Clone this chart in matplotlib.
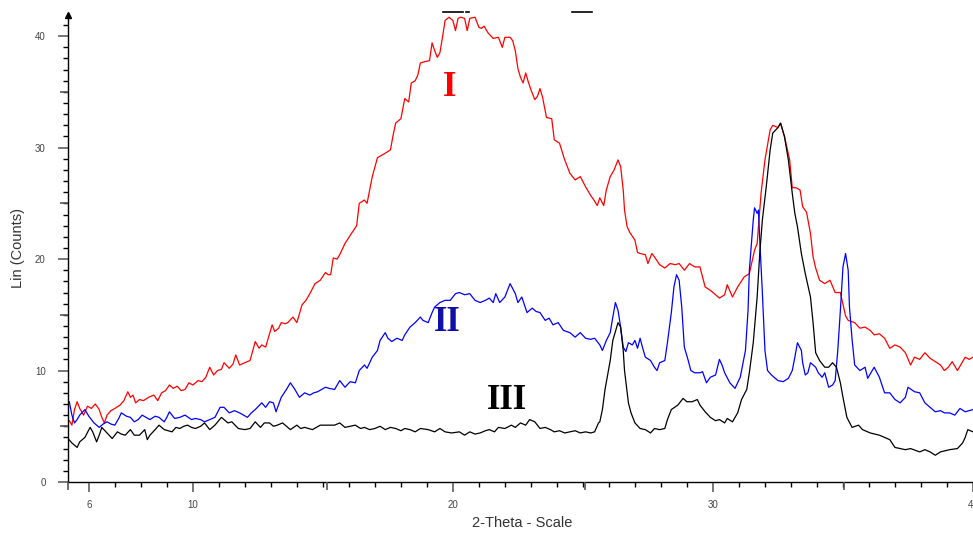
import numpy as np
import matplotlib
matplotlib.use("Agg")
import matplotlib.pyplot as plt
from matplotlib.ticker import FixedLocator, MultipleLocator
from matplotlib.lines import Line2D

# ---- data (2-theta, counts) ----
red_points = [
    (5.25,5.5),(5.35,5.1),(5.45,6.5),(5.55,7.2),(5.65,6.6),(5.8,6.0),(5.95,6.8),(6.1,6.6),(6.25,7.0),(6.4,6.5),
    (6.5,5.8),(6.6,5.3),(6.7,6.0),(6.85,6.4),(7.0,6.6),(7.2,6.9),(7.35,7.3),(7.5,8.1),(7.6,7.6),(7.7,7.8),
    (7.8,7.1),(7.95,7.4),(8.1,7.3),(8.3,7.6),(8.5,7.8),(8.65,7.3),(8.8,8.0),(8.95,8.2),(9.1,8.7),(9.25,8.4),
    (9.4,8.6),(9.55,8.2),(9.7,8.3),(9.85,8.9),(10.0,8.7),(10.2,9.1),(10.35,9.0),(10.5,9.4),(10.65,10.3),(10.8,9.6),
    (10.95,10.0),(11.1,10.1),(11.2,10.7),(11.4,10.2),(11.55,10.6),(11.65,11.4),(11.8,10.5),(12.0,10.7),(12.2,10.9),(12.4,12.6),
    (12.55,12.0),(12.65,12.3),(12.8,12.1),(12.9,12.9),(13.05,14.1),(13.15,13.5),(13.3,13.8),(13.4,14.3),(13.55,14.2),(13.65,14.3),
    (13.85,14.8),(14.0,14.3),(14.2,15.9),(14.35,16.3),(14.5,16.9),(14.7,17.8),(14.9,18.1),(15.1,18.8),(15.2,18.6),(15.3,18.6),
    (15.4,20.1),(15.55,20.0),(15.65,20.4),(15.85,21.4),(16.1,22.3),(16.3,23.0),(16.4,25.0),(16.6,25.3),(16.7,25.0),(16.9,27.4),
    (17.1,29.1),(17.25,29.3),(17.4,29.5),(17.6,29.8),(17.7,31.1),(17.8,32.2),(18.0,32.6),(18.15,34.4),(18.3,34.1),(18.4,35.8),
    (18.55,36.0),(18.65,36.5),(18.75,37.6),(18.9,37.7),(19.1,37.8),(19.2,39.4),(19.3,38.7),(19.4,38.1),(19.5,38.5),(19.6,39.9),
    (19.7,41.4),(19.85,41.7),(20.0,41.4),(20.1,40.5),(20.2,41.6),(20.3,41.7),(20.45,41.6),(20.55,40.5),(20.65,41.6),(20.85,41.7),
    (21.0,40.8),(21.1,40.7),(21.2,40.9),(21.35,40.3),(21.55,39.8),(21.75,39.9),(21.9,39.0),(22.0,39.9),(22.2,39.9),(22.3,39.6),
    (22.4,38.7),(22.5,37.1),(22.6,36.3),(22.7,35.8),(22.8,36.7),(22.9,35.9),(23.0,35.2),(23.15,34.3),(23.25,34.6),(23.35,35.3),
    (23.45,34.5),(23.6,32.7),(23.8,32.6),(23.9,30.7),(24.1,30.4),(24.3,28.9),(24.5,27.7),(24.7,27.1),(24.9,27.4),(25.1,26.5),
    (25.3,25.7),(25.45,25.2),(25.55,24.8),(25.65,25.5),(25.8,24.8),(25.9,26.2),(26.05,27.4),(26.2,28.0),(26.35,28.9),(26.45,28.3),
    (26.55,26.2),(26.6,24.4),(26.7,22.9),(26.8,22.4),(27.0,21.7),(27.1,20.6),(27.2,20.5),(27.4,20.4),(27.5,19.6),(27.65,20.5),
    (27.75,20.2),(27.95,19.5),(28.15,19.2),(28.35,19.6),(28.55,19.5),(28.7,19.6),(28.9,19.0),(29.1,19.6),(29.3,19.3),(29.5,19.3),
    (29.6,18.4),(29.7,17.5),(29.9,17.2),(30.1,16.8),(30.25,16.5),(30.45,16.8),(30.55,17.7),(30.75,16.6),(30.95,17.5),(31.2,18.4),
    (31.4,18.7),(31.6,20.8),(31.7,21.4),(31.85,25.9),(32.0,28.9),(32.2,31.6),(32.3,32.0),(32.5,31.8),(32.6,32.2),(32.75,31.0),
    (32.95,28.9),(33.05,26.4),(33.2,26.4),(33.35,26.2),(33.45,24.7),(33.6,24.2),(33.75,22.3),(33.85,20.2),(33.95,19.2),(34.1,18.1),
    (34.3,17.8),(34.5,18.1),(34.7,17.0),(34.9,17.0),(35.1,14.9),(35.2,14.5),(35.45,14.3),(35.65,13.8),(35.85,13.9),(36.05,13.6),
    (36.2,13.2),(36.4,13.3),(36.6,12.9),(36.8,12.0),(37.0,12.3),(37.2,12.1),(37.4,11.6),(37.6,10.5),(37.75,11.2),(37.95,11.0),
    (38.15,11.6),(38.35,11.1),(38.55,10.8),(38.75,10.5),(38.9,10.0),(39.05,10.3),(39.2,10.8),(39.4,10.0),(39.55,10.6),(39.7,11.2),
    (39.85,11.0),(40.0,11.2),
]

blue_points = [
    (5.25,7.2),(5.35,6.0),(5.45,5.3),(5.55,5.6),(5.65,6.0),(5.85,6.5),(6.0,5.9),(6.2,5.3),(6.4,4.9),(6.55,5.2),
    (6.7,5.4),(6.85,5.2),(7.0,5.1),(7.15,5.7),(7.25,6.2),(7.45,5.9),(7.6,5.8),(7.75,5.4),(7.9,5.6),(8.05,6.0),
    (8.2,5.8),(8.35,5.6),(8.55,5.9),(8.7,5.8),(8.9,5.4),(9.0,5.8),(9.1,6.3),(9.3,5.7),(9.5,5.8),(9.7,6.0),
    (9.95,5.6),(10.1,5.7),(10.3,5.6),(10.45,5.4),(10.65,5.6),(10.85,5.8),(11.05,6.7),(11.2,6.7),(11.4,6.2),(11.6,6.4),
    (11.8,6.2),(11.95,6.0),(12.1,5.8),(12.25,6.2),(12.4,6.5),(12.65,7.1),(12.8,6.7),(12.95,7.2),(13.1,7.1),(13.2,6.3),
    (13.4,7.6),(13.6,8.3),(13.75,8.9),(13.9,8.4),(14.1,7.6),(14.3,8.0),(14.5,7.8),(14.65,8.0),(14.8,8.1),(14.95,8.3),
    (15.1,8.5),(15.25,8.4),(15.45,8.3),(15.65,9.1),(15.85,8.5),(16.05,9.0),(16.25,8.9),(16.4,10.0),(16.6,10.5),(16.7,10.2),
    (16.9,11.2),(17.1,11.8),(17.2,12.7),(17.4,13.4),(17.5,12.9),(17.65,12.6),(17.85,12.9),(18.05,12.7),(18.15,13.2),(18.35,13.9),
    (18.55,14.3),(18.75,14.8),(18.85,14.5),(19.05,14.3),(19.2,15.2),(19.3,15.7),(19.5,16.1),(19.7,16.3),(19.9,16.3),(20.1,16.9),
    (20.25,17.0),(20.45,16.8),(20.65,16.9),(20.85,16.3),(21.05,16.1),(21.25,16.3),(21.4,16.5),(21.55,16.1),(21.65,16.9),(21.8,16.1),
    (22.0,16.6),(22.2,17.8),(22.4,16.9),(22.5,16.1),(22.65,16.6),(22.85,15.2),(23.05,15.6),(23.2,15.3),(23.35,15.2),(23.55,14.5),
    (23.7,14.7),(23.85,14.1),(24.05,14.3),(24.25,13.6),(24.5,13.4),(24.7,13.0),(24.9,13.4),(25.1,12.9),(25.3,12.8),(25.45,12.9),
    (25.65,12.3),(25.75,11.8),(25.9,12.7),(26.05,13.4),(26.15,14.8),(26.25,16.1),(26.35,15.4),(26.45,13.9),(26.55,12.1),(26.65,11.7),
    (26.75,12.5),(26.9,12.3),(27.0,12.7),(27.1,12.0),(27.2,12.9),(27.3,12.0),(27.4,11.2),(27.6,10.9),(27.75,10.3),(27.85,10.0),
    (27.95,10.7),(28.15,10.9),(28.25,12.5),(28.4,15.2),(28.5,17.5),(28.6,18.6),(28.7,18.1),(28.8,15.7),(28.9,12.1),(29.05,10.9),
    (29.15,10.0),(29.3,9.8),(29.5,9.8),(29.6,9.9),(29.75,8.9),(29.9,9.4),(30.1,9.6),(30.25,11.0),(30.35,10.5),(30.45,9.8),
    (30.65,8.9),(30.85,8.4),(31.05,9.4),(31.25,11.8),(31.35,15.4),(31.4,19.0),(31.55,23.5),(31.6,24.6),(31.7,24.1),(31.75,24.4),
    (31.8,21.7),(31.9,17.0),(32.0,11.8),(32.1,10.0),(32.25,9.6),(32.5,9.1),(32.7,9.0),(32.9,9.3),(33.05,10.0),(33.15,11.2),
    (33.25,12.5),(33.4,11.8),(33.45,10.7),(33.55,9.6),(33.65,9.8),(33.75,10.7),(33.95,10.3),(34.05,9.8),(34.2,9.4),(34.3,9.8),
    (34.45,8.5),(34.6,8.7),(34.7,9.1),(34.8,11.8),(34.9,15.4),(35.0,19.3),(35.1,20.5),(35.2,19.0),(35.25,15.7),(35.35,12.8),
    (35.45,10.5),(35.65,10.0),(35.85,10.3),(35.95,9.3),(36.1,9.9),(36.2,10.3),(36.4,9.4),(36.6,8.0),(36.8,8.0),(37.0,7.4),
    (37.2,7.1),(37.4,7.6),(37.5,8.5),(37.75,8.1),(37.95,8.0),(38.15,7.1),(38.35,6.7),(38.55,6.3),(38.75,6.4),(38.9,6.2),
    (39.1,6.2),(39.3,6.0),(39.5,6.6),(39.7,6.3),(39.85,6.4),(40.0,6.5),
]

black_points = [
    (5.2,3.9),(5.35,3.5),(5.55,3.1),(5.65,3.6),(5.85,4.0),(6.05,4.9),(6.15,4.5),(6.3,3.6),(6.4,4.2),(6.5,4.9),
    (6.7,4.4),(6.9,3.9),(7.1,4.5),(7.25,4.3),(7.4,4.2),(7.6,4.7),(7.75,4.2),(7.95,4.2),(8.15,4.7),(8.25,3.8),
    (8.35,4.2),(8.55,4.7),(8.7,5.1),(8.9,4.7),(9.05,4.6),(9.2,4.5),(9.35,4.9),(9.5,4.8),(9.65,5.0),(9.8,5.1),
    (9.95,4.9),(10.1,4.8),(10.3,5.0),(10.45,5.3),(10.65,4.7),(10.85,5.1),(11.1,5.8),(11.35,5.3),(11.5,5.4),(11.75,4.8),
    (12.0,4.7),(12.2,4.8),(12.4,5.4),(12.6,4.9),(12.75,5.3),(12.95,5.3),(13.1,5.0),(13.25,5.1),(13.45,5.3),(13.6,5.0),
    (13.75,4.7),(14.0,5.1),(14.15,4.8),(14.3,4.9),(14.6,4.7),(14.9,5.1),(15.2,5.1),(15.45,5.1),(15.65,5.3),(15.85,4.9),
    (16.05,5.0),(16.25,5.1),(16.45,4.8),(16.6,4.9),(16.8,4.7),(17.0,4.8),(17.2,5.0),(17.4,4.7),(17.6,4.9),(17.8,4.8),
    (18.0,4.6),(18.15,4.8),(18.35,4.7),(18.55,4.5),(18.75,4.8),(19.05,4.7),(19.3,4.5),(19.5,4.8),(19.7,4.5),(19.95,4.4),
    (20.25,4.5),(20.45,4.2),(20.65,4.5),(20.85,4.3),(21.05,4.4),(21.25,4.6),(21.4,4.7),(21.6,4.5),(21.75,4.9),(22.0,4.8),
    (22.25,5.1),(22.4,4.9),(22.6,5.3),(22.8,5.1),(22.95,5.6),(23.15,5.4),(23.35,4.8),(23.55,4.9),(23.75,4.7),(23.9,4.5),
    (24.1,4.6),(24.3,4.4),(24.5,4.5),(24.7,4.6),(24.9,4.4),(25.1,4.5),(25.3,4.4),(25.45,4.5),(25.6,5.3),(25.65,5.4),
    (25.75,6.5),(25.85,8.3),(26.05,10.9),(26.15,12.7),(26.35,14.3),(26.45,13.9),(26.55,11.8),(26.6,10.0),(26.75,7.1),(26.85,6.2),
    (27.0,5.3),(27.2,4.8),(27.4,4.7),(27.6,4.4),(27.75,4.8),(27.95,4.7),(28.15,4.8),(28.25,5.6),(28.4,6.5),(28.65,6.9),
    (28.85,7.5),(29.0,7.2),(29.2,7.2),(29.4,7.4),(29.5,6.9),(29.7,6.3),(29.9,5.8),(30.1,5.5),(30.25,5.6),(30.45,5.3),
    (30.55,5.7),(30.75,5.4),(30.95,6.2),(31.1,7.4),(31.3,8.3),(31.4,9.8),(31.55,12.5),(31.7,16.6),(31.8,20.5),(31.9,23.5),
    (32.05,26.5),(32.2,29.8),(32.3,31.3),(32.5,31.8),(32.6,32.2),(32.75,31.0),(32.9,28.9),(33.05,25.9),(33.15,24.1),(33.25,22.9),
    (33.4,20.5),(33.55,18.7),(33.75,16.6),(33.85,14.3),(33.95,11.6),(34.1,10.9),(34.3,10.3),(34.45,10.3),(34.6,10.7),(34.75,10.3),
    (34.9,8.9),(35.0,7.6),(35.15,5.8),(35.35,4.9),(35.6,5.1),(35.75,4.7),(36.05,4.4),(36.4,4.2),(36.8,3.8),(37.0,3.1),
    (37.4,2.9),(37.6,3.0),(37.95,2.7),(38.15,2.9),(38.35,2.7),(38.55,2.4),(38.75,2.7),(39.1,2.9),(39.4,3.0),(39.6,3.5),
    (39.7,4.0),(39.8,4.7),(40.0,4.5),
]

series_labels = ["I", "II", "III"]
series_colors = ["#ff0000", "#0000ff", "#000000"]
label_colors = ["#ff0000", "#1010a8", "#000000"]
label_pos = [(19.88, 35.4), (19.77, 14.3), (22.08, 7.35)]

x_ticklabels = [6, 10, 20, 30, 40]
y_ticklabels = [0, 10, 20, 30, 40]
mid_ticks = [5, 15, 25, 35]

XLIM = (5.2, 40.0)
YLIM = (0, 41.9)

# ---- figure ----
fig = plt.figure(figsize=(9.73, 5.34), dpi=100)
rect = [68/973, 52/534, (973-68)/973, (482-15)/534]
ax = fig.add_axes(rect)

for pts, col in zip([red_points, blue_points, black_points], series_colors):
    arr = np.array(pts)
    ax.plot(arr[:, 0], arr[:, 1], color=col, lw=0.9, solid_joinstyle="round")

for lab, col, (lx, ly) in zip(series_labels, label_colors, label_pos):
    ax.text(lx, ly, lab, color=col, fontsize=25, fontweight="bold",
            family="Liberation Serif", ha="center", va="center")

ax.set_xlim(*XLIM)
ax.set_ylim(*YLIM)

for s in ["top", "right"]:
    ax.spines[s].set_visible(False)
for s in ["left", "bottom"]:
    ax.spines[s].set_color("black")
    ax.spines[s].set_linewidth(1.0)

# ticks
ax.xaxis.set_major_locator(FixedLocator(x_ticklabels))
ax.xaxis.set_minor_locator(MultipleLocator(1))
ax.yaxis.set_major_locator(FixedLocator(y_ticklabels))
ax.yaxis.set_minor_locator(MultipleLocator(1))
ax.tick_params(axis="both", which="major", direction="out", length=7, width=1.4,
               color="#777777", labelsize=7, labelcolor="#444444")
ax.tick_params(axis="y", which="major", pad=9)
ax.tick_params(axis="x", which="major", pad=6)
ax.tick_params(axis="both", which="minor", direction="out", length=3.5, width=1.0, color="black")
for lbl in ax.get_xticklabels() + ax.get_yticklabels():
    lbl.set_family("Liberation Sans")

# medium ticks at multiples of 5 on an overlay axes
axm = fig.add_axes(rect, frameon=False)
axm.patch.set_visible(False)
axm.set_xlim(*XLIM)
axm.set_ylim(*YLIM)
axm.set_xticks(mid_ticks)
axm.set_yticks(mid_ticks)
axm.tick_params(axis="both", which="major", direction="out", length=6, width=1.2,
                color="#555555", labelbottom=False, labelleft=False)

ax.set_xlabel("2-Theta - Scale", family="Liberation Sans", fontsize=10.5, color="#333333")
ax.set_ylabel("Lin (Counts)", family="Liberation Sans", fontsize=10.5, color="#333333")
ax.xaxis.set_label_coords(0.502, -0.072)
ax.yaxis.set_label_coords(-0.047, 0.5)

# arrow at top of y axis
ax.plot([0], [1], marker="^", markersize=4.5, color="black", transform=ax.transAxes, clip_on=False)

# small marks at the very top of the picture
fig.add_artist(Line2D([443/973, 463/973], [1-12/534, 1-12/534], color="black", lw=1.2))
fig.add_artist(Line2D([466/973, 469/973], [1-12/534, 1-12/534], color="black", lw=1.2))
fig.add_artist(Line2D([572/973, 592/973], [1-12/534, 1-12/534], color="black", lw=1.2))

fig.savefig("out.png", dpi=100)
